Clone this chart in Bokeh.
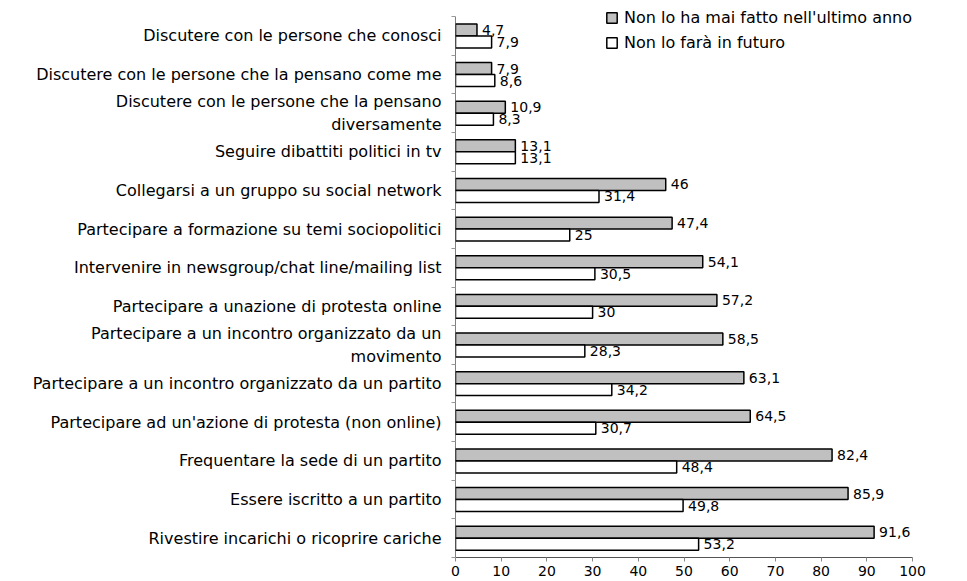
from bokeh.plotting import figure
from bokeh.models import Range1d, FixedTicker, ColumnDataSource, Legend, LegendItem
from bokeh.core.properties import value
from bokeh.embed import file_html
from bokeh.resources import INLINE

categories = [
    "Discutere con le persone che conosci",
    "Discutere con le persone che la pensano come me",
    "Discutere con le persone che la pensano\ndiversamente",
    "Seguire dibattiti politici in tv",
    "Collegarsi a un gruppo su social network",
    "Partecipare a formazione su temi sociopolitici",
    "Intervenire in newsgroup/chat line/mailing list",
    "Partecipare a unazione di protesta online",
    "Partecipare a un incontro organizzato da un\nmovimento",
    "Partecipare a un incontro organizzato da un partito",
    "Partecipare ad un'azione di protesta (non online)",
    "Frequentare la sede di un partito",
    "Essere iscritto a un partito",
    "Rivestire incarichi o ricoprire cariche",
]
mai_fatto = [4.7, 7.9, 10.9, 13.1, 46, 47.4, 54.1, 57.2, 58.5, 63.1, 64.5, 82.4, 85.9, 91.6]
non_fara = [7.9, 8.6, 8.3, 13.1, 31.4, 25, 30.5, 30, 28.3, 34.2, 30.7, 48.4, 49.8, 53.2]
series_names = ["Non lo ha mai fatto nell'ultimo anno", "Non lo farà in futuro"]
x_ticks = list(range(0, 101, 10))

FONT = "DejaVu Sans"
n = len(categories)
pos = list(range(n))
off = 0.155
bh = 0.31
top_pad = 0.417  # room above the first category for the legend

def fmt(v):
    return f"{v:g}".replace(".", ",")

src1 = ColumnDataSource(dict(y=[p_ - off for p_ in pos], x=mai_fatto, lab=[fmt(v) for v in mai_fatto]))
src2 = ColumnDataSource(dict(y=[p_ + off for p_ in pos], x=non_fara, lab=[fmt(v) for v in non_fara]))

p = figure(width=960, height=578, output_backend="svg", toolbar_location=None,
           x_range=Range1d(0, 100), y_range=Range1d(n - 0.5, -0.5 - top_pad),
           min_border_left=455, min_border_right=48, min_border_top=0, min_border_bottom=0)
p.outline_line_color = None
p.xgrid.visible = False
p.ygrid.visible = False

# vertical category axis line spanning only the categories
p.segment(x0=[0], y0=[-0.5], x1=[0], y1=[n - 0.5], line_color="black", line_width=1)

r1 = p.hbar(y="y", right="x", left=0, height=bh, source=src1, fill_color="#c0c0c0",
            line_color="black", line_width=1.5)
r2 = p.hbar(y="y", right="x", left=0, height=bh, source=src2, fill_color="white",
            line_color="black", line_width=1.5)

for s in (src1, src2):
    p.text(x="x", y="y", text="lab", source=s, x_offset=5, text_baseline="middle",
           text_align="left", text_font=value(FONT), text_font_size="14px", text_color="black")

# axes
xa = p.xaxis[0]
xa.ticker = FixedTicker(ticks=x_ticks)
xa.major_label_text_font = FONT
xa.major_label_text_font_size = "14px"
xa.major_label_text_color = "black"
xa.major_tick_out = 4
xa.major_tick_in = 0
xa.minor_tick_line_color = None
xa.axis_line_color = "#555555"
xa.major_tick_line_color = "#888888"
xa.major_label_standoff = 4

ya = p.yaxis[0]
ya.ticker = FixedTicker(ticks=pos, minor_ticks=[i - 0.5 for i in range(n + 1)])
ya.major_label_overrides = {i: c for i, c in enumerate(categories)}
ya.major_label_text_font = FONT
ya.major_label_text_font_size = "16px"
ya.major_label_text_color = "black"
ya.major_tick_line_color = None
ya.minor_tick_out = 4
ya.minor_tick_in = 0
ya.minor_tick_line_color = "#999999"
ya.axis_line_color = None
ya.major_label_standoff = 8

legend = Legend(items=[LegendItem(label=series_names[0], renderers=[r1]),
                       LegendItem(label=series_names[1], renderers=[r2])],
                location=(150, 505), orientation="vertical")
legend.border_line_color = None
legend.background_fill_alpha = 0
legend.padding = 0
legend.margin = 0
legend.spacing = 6
legend.glyph_width = 13
legend.glyph_height = 13
legend.label_height = 15
legend.label_standoff = 6
legend.label_text_font = FONT
legend.label_text_font_size = "16px"
legend.label_text_color = "black"
p.add_layout(legend, "center")

open("out.html", "w").write(file_html(p, INLINE))
